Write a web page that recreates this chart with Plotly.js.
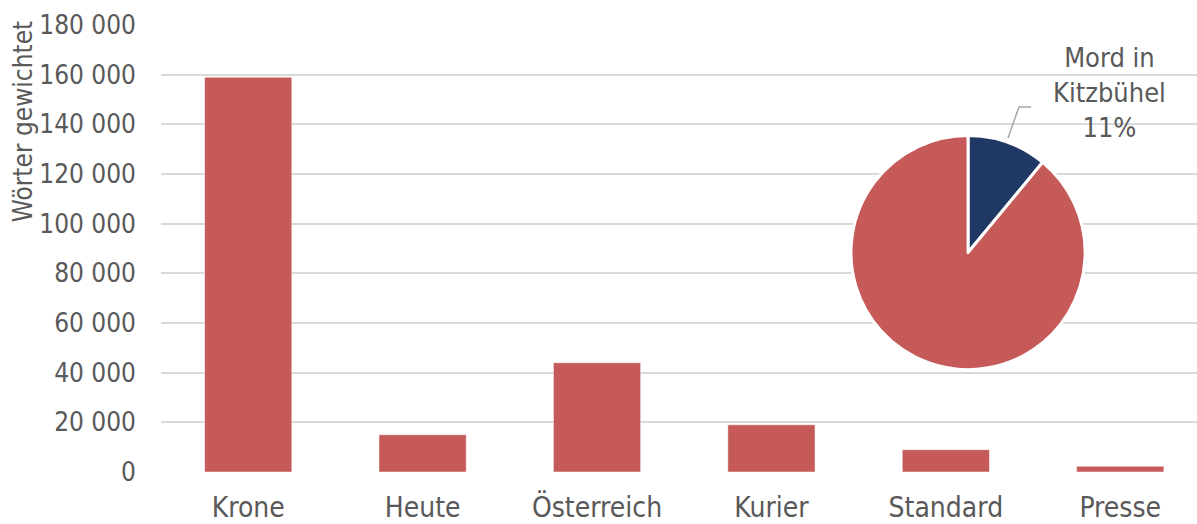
<!DOCTYPE html>
<html>
<head>
<meta charset="utf-8">
<script src="https://cdn.plot.ly/plotly-3.0.1.min.js"></script>
<style>html,body{margin:0;padding:0;background:#fff;}#chart{width:1197px;height:524px;}</style>
</head>
<body>
<div id="chart"></div>
<script>
// Bar chart data
const categories = ['Krone', 'Heute', 'Österreich', 'Kurier', 'Standard', 'Presse'];
const wordsWeighted = [159000, 15000, 44000, 19000, 9000, 2300];
const yTickValues = [0, 20000, 40000, 60000, 80000, 100000, 120000, 140000, 160000, 180000];
const yAxisTitle = 'Wörter gewichtet';

// Inset pie data
const pieLabels = ['Mord in Kitzbühel', 'Andere'];
const pieValues = [11, 89];

const FONT = '"DejaVu Sans Condensed", "DejaVu Sans", Tahoma, sans-serif';
const GREY = '#595959';
const RED = '#C55A59';
const NAVY = '#1F3864';

const total = pieValues.reduce((a, b) => a + b, 0);
const pct = Math.round(pieValues[0] / total * 100);

const bars = {
  type: 'bar',
  x: categories,
  y: wordsWeighted,
  width: 0.5,
  marker: {color: RED, line: {color: '#fff', width: 0.5}},
  hoverinfo: 'x+y'
};

const pie = {
  type: 'pie',
  labels: pieLabels,
  values: pieValues,
  sort: false,
  direction: 'clockwise',
  rotation: 0,
  textinfo: 'none',
  marker: {colors: [NAVY, RED], line: {color: '#fff', width: 3}},
  domain: {x: [0.666, 0.892], y: [0.228, 0.754]},
  showlegend: false
};

const layout = {
  width: 1197,
  height: 524,
  margin: {l: 161, r: 0, t: 25, b: 52},
  paper_bgcolor: '#fff',
  plot_bgcolor: '#fff',
  separators: ', ',
  showlegend: false,
  font: {family: FONT, color: GREY, size: 26},
  xaxis: {
    type: 'category',
    range: [-0.5, 5.44],
    showgrid: false,
    showline: false,
    zeroline: false,
    ticks: '',
    ticklabelstandoff: 16,
    tickfont: {family: FONT, size: 28, color: GREY}
  },
  yaxis: {
    range: [0, 180000],
    tickvals: yTickValues,
    tickformat: ',d',
    showgrid: true,
    gridcolor: '#D9D9D9',
    gridwidth: 1.8,
    zeroline: false,
    showline: false,
    ticks: '',
    ticklabelstandoff: 24,
    tickfont: {family: FONT, size: 26, color: GREY}
  },
  annotations: [
    {
      text: yAxisTitle,
      textangle: -90,
      xref: 'paper', yref: 'paper',
      x: -0.133, y: 0.783,
      xanchor: 'center', yanchor: 'middle',
      showarrow: false,
      font: {family: FONT, size: 26, color: GREY}
    },
    {
      text: pieLabels[0].replace(' Kitz', '<br>Kitz') + '<br>' + pct + '%',
      xref: 'paper', yref: 'paper',
      x: 0.916, y: 0.848,
      xanchor: 'center', yanchor: 'middle',
      showarrow: false,
      align: 'center',
      font: {family: FONT, size: 27, color: GREY}
    }
  ],
  shapes: [
    {
      type: 'path',
      xref: 'paper', yref: 'paper',
      path: 'M 0.8176 0.7472 L 0.8282 0.8166 L 0.8398 0.8166',
      line: {color: '#A6A6A6', width: 1.5}
    }
  ]
};

Plotly.newPlot('chart', [bars, pie], layout, {displayModeBar: false, staticPlot: true});
</script>
</body>
</html>
